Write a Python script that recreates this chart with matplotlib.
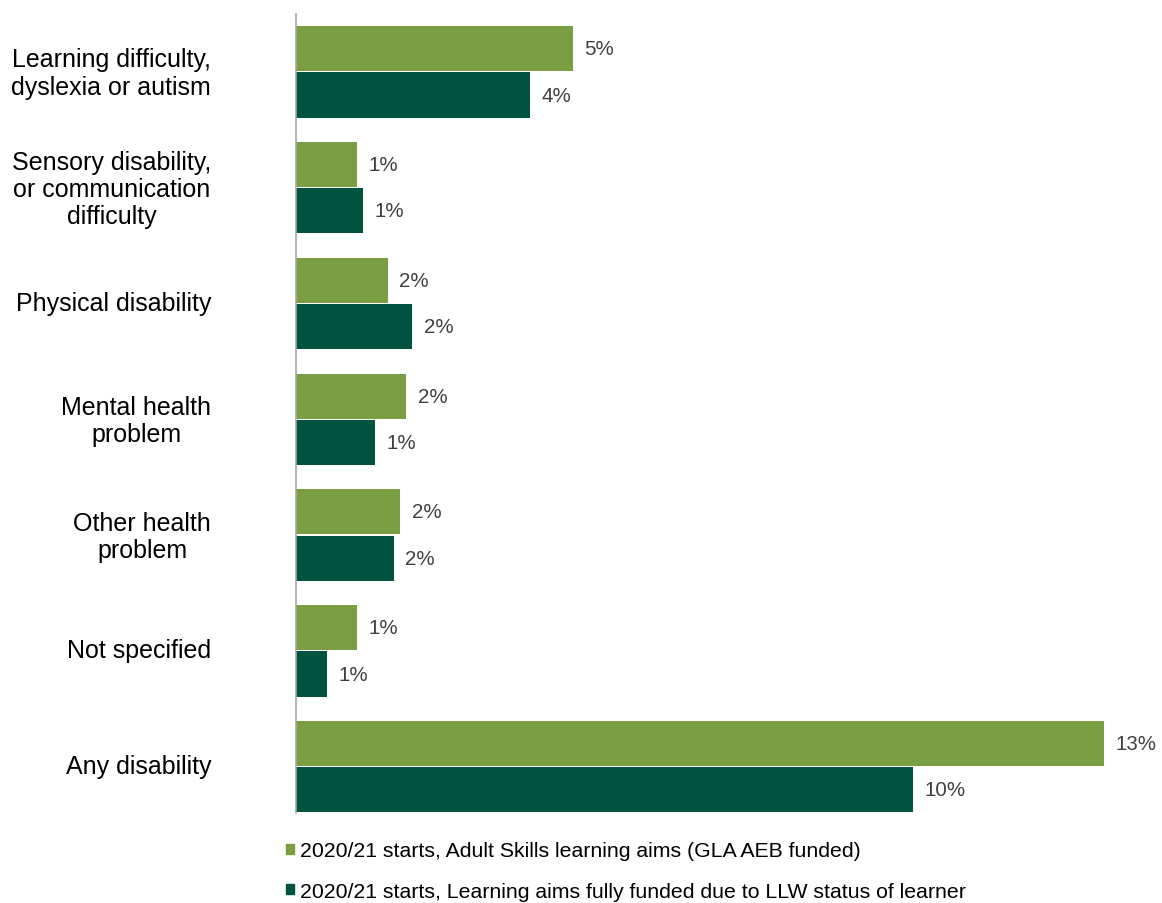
import matplotlib
matplotlib.use("Agg")
import matplotlib.pyplot as plt
from matplotlib.patches import Patch
from matplotlib.transforms import ScaledTranslation

plt.rcParams['font.family'] = ['Liberation Sans', 'DejaVu Sans']

categories = [
    "Learning difficulty,\ndyslexia or autism",
    "Sensory disability,\nor communication\ndifficulty",
    "Physical disability",
    "Mental health\nproblem",
    "Other health\nproblem",
    "Not specified",
    "Any disability",
]
adult_skills = [4.58, 1.01, 1.52, 1.82, 1.72, 1.01, 13.36]
llw_funded = [3.87, 1.11, 1.92, 1.31, 1.62, 0.52, 10.2]
series_names = [
    "2020/21 starts, Adult Skills learning aims (GLA AEB funded)",
    "2020/21 starts, Learning aims fully funded due to LLW status of learner",
]
colors = ["#7A9E42", "#00543F"]


def pct(v):
    return f"{int(v + 0.5)}%"


fig = plt.figure(figsize=(11.62, 9.04), dpi=100)
ax = fig.add_axes([0.2547, 0.0996, 0.729, 0.8838])

pos = list(range(len(categories)))
h = 0.39
ax.barh([p - 0.2 for p in pos], adult_skills, height=h, color=colors[0])
ax.barh([p + 0.2 for p in pos], llw_funded, height=h, color=colors[1])

for p, a, b in zip(pos, adult_skills, llw_funded):
    ax.text(a + 0.19, p - 0.2, pct(a), va="center", ha="left",
            fontsize=14.8, color="#404040")
    ax.text(b + 0.19, p + 0.2, pct(b), va="center", ha="left",
            fontsize=14.8, color="#404040")

ax.set_xlim(0, 14)
ax.set_ylim(6.4, -0.5)
ax.set_xticks([])
ax.set_yticks(pos)
ax.set_yticklabels(categories, fontsize=18, multialignment="center",
                   linespacing=1.17)
ax.tick_params(axis="y", length=0, pad=61)
nudge = ScaledTranslation(0, 3 / 100, fig.dpi_scale_trans)
for lbl in ax.get_yticklabels():
    lbl.set_transform(lbl.get_transform() + nudge)
for s in ["top", "right", "bottom"]:
    ax.spines[s].set_visible(False)
ax.spines["left"].set_color("#A6A6A6")
ax.spines["left"].set_linewidth(1.2)

handles = [Patch(color=c) for c in colors]
fig.legend(handles, series_names, loc="upper left",
           bbox_to_anchor=(0.2386, 0.0775), frameon=False, fontsize=15.3,
           handlelength=0.38, handleheight=0.38, handletextpad=0.27,
           labelspacing=1.0, borderaxespad=0)

fig.savefig("out.png", dpi=100)
